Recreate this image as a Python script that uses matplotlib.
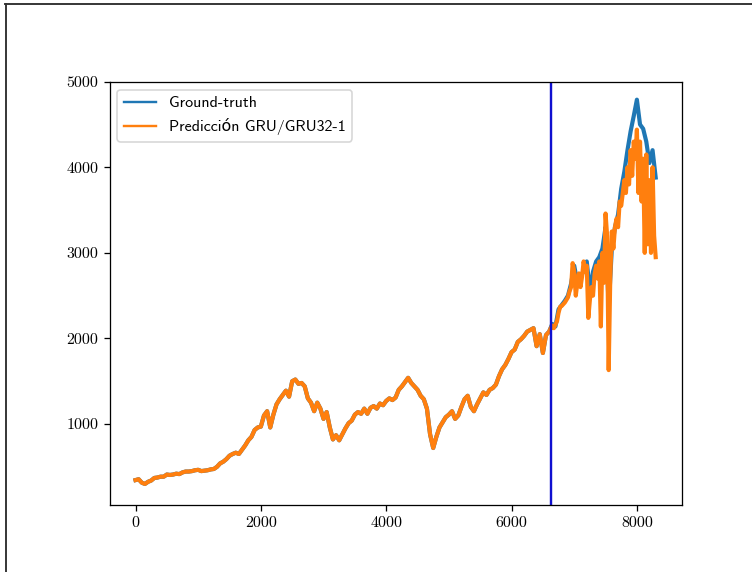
import numpy as np
import matplotlib
matplotlib.use("Agg")
import matplotlib.pyplot as plt
from matplotlib.lines import Line2D

# closing values, one every 50 trading days
step = 50
truth = [
    345, 355, 315, 300, 325, 340, 370, 375, 385, 385,
    410, 405, 410, 420, 415, 435, 445, 445, 450, 460,
    465, 450, 455, 460, 470, 475, 500, 540, 560, 590,
    630, 650, 665, 650, 700, 750, 810, 850, 930, 960,
    970, 1100, 1150, 960, 1110, 1230, 1290, 1340, 1390, 1320,
    1500, 1520, 1470, 1480, 1440, 1300, 1250, 1150, 1250, 1180,
    1060, 1140, 960, 820, 870, 810, 880, 950, 1010, 1040,
    1110, 1140, 1120, 1180, 1120, 1190, 1210, 1180, 1240, 1220,
    1270, 1300, 1280, 1310, 1400, 1440, 1490, 1540, 1480, 1440,
    1400, 1330, 1290, 1180, 880, 720, 850, 960, 1020, 1080,
    1110, 1150, 1060, 1100, 1200, 1290, 1330, 1200, 1150, 1230,
    1300, 1370, 1340, 1400, 1420, 1460, 1560, 1640, 1690, 1760,
    1840, 1870, 1960, 1990, 2030, 2080, 2100, 2120, 1910, 2050,
    1830, 2040, 2080, 2170, 2140, 2340, 2390, 2440, 2500, 2640,
    2850, 2650, 2700, 2800, 2900, 2550, 2780, 2900, 2950, 3050,
    3300, 2350, 3050, 3300, 3450, 3750, 3950, 4200, 4420, 4600,
    4790, 4500, 4450, 4300, 4050, 4200, 3880,
]

# model output on the test part, one every 25 trading days
split = 6630
test_start = 6625
test_step = 25
pred_test = [
    2120, 2150, 2120, 2160, 2200, 2300, 2370, 2380, 2400, 2420,
    2450, 2480, 2550, 2600, 2880, 2780, 2500, 2650, 2760, 2600,
    2720, 2900, 2780, 2850, 2240, 2450, 2600, 2500, 2750, 2850,
    2700, 2900, 2140, 3000, 2650, 3460, 3200, 1630, 2700, 3250,
    3050, 3300, 3400, 3300, 3600, 3550, 3700, 3850, 3700, 4000,
    3800, 4200, 3900, 4300, 4100, 4440, 3700, 4300, 3600, 4100,
    3000, 4150, 3100, 3850, 3000, 4000, 3200, 2950,
]

x_truth = np.arange(len(truth)) * step
x_test = test_start + np.arange(len(pred_test)) * test_step
train = x_truth < test_start
x_pred = np.concatenate([x_truth[train], x_test])
pred = np.concatenate([np.array(truth)[train], pred_test])

W, H, dpi = 752, 572, 115
fig = plt.figure(figsize=(W / dpi, H / dpi), dpi=dpi)
ax = fig.add_axes([109.5 / W, (H - 505) / H, (681.7 - 109.5) / W, (505 - 81.7) / H])

ax.plot(x_truth, truth, color="#1f77b4", lw=2.6, label="Ground-truth")
ax.plot(x_pred, pred, color="#ff7f0e", lw=2.6, label="Predicción GRU/GRU32-1")
ax.axvline(split, color="#1010d0", lw=1.5)

ax.set_xlim(-415, 8715)
ax.set_ylim(54, 5000)
ax.set_xticks([0, 2000, 4000, 6000, 8000])
ax.set_yticks([1000, 2000, 3000, 4000, 5000])
for lbl in ax.get_xticklabels() + ax.get_yticklabels():
    lbl.set_fontfamily("cmr10")
    lbl.set_fontsize(10)

leg = ax.legend(loc="upper left", prop={"family": ["cmss10", "DejaVu Sans"], "size": 10})
for h in leg.get_lines():
    h.set_linewidth(1.5)

# thin frame along the top and left edge of the image
fig.add_artist(Line2D([5 / W, 1], [1 - 4 / H] * 2, transform=fig.transFigure, color="#333333", lw=1.2))
fig.add_artist(Line2D([6 / W] * 2, [0, 1 - 4 / H], transform=fig.transFigure, color="#333333", lw=1.2))

fig.savefig("out.png", dpi=dpi)
